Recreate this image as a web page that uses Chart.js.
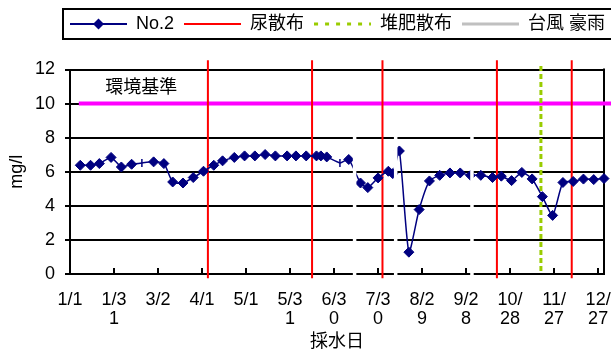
<!DOCTYPE html>
<html lang="ja">
<head>
<meta charset="UTF-8">
<title>No.2 採水日</title>
<script src="https://cdn.jsdelivr.net/npm/chart.js"></script>
<style>
  body { margin: 0; background: #fff; }
  #wrap { width: 611px; height: 351px; }
</style>
</head>
<body>
<div id="wrap"><canvas id="chart"></canvas></div>
<script>
// x axis = days since 1/1
const tickLabels = ['1/1', '1/31', '3/2', '4/1', '5/1', '5/31', '6/30', '7/30', '8/29', '9/28', '10/28', '11/27', '12/27'];
const sampleDays = [7, 14, 20, 28, 35, 42, 49, 57, 64, 70, 77, 84, 91, 98, 104, 112, 119, 126, 133, 140, 148, 154, 161, 168, 171, 175,
  184, 190, 198, 203, 210, 217, 220, 224.5, 231, 238, 245, 252, 259, 266, 273, 280, 288, 294, 301, 308, 315, 322, 329, 336, 343, 350, 357, 364];
const no2Values = [6.38, 6.38, 6.48, 6.84, 6.28, 6.44, 6.52, 6.58, 6.48, 5.40, 5.34, 5.66, 6.03, 6.38, 6.64, 6.84, 6.93, 6.93, 7.01, 6.93, 6.93, 6.93, 6.93, 6.93, 6.93, 6.87,
  6.52, 6.72, 5.34, 5.07, 5.64, 6.03, 5.89, 7.22, 1.28, 3.78, 5.46, 5.79, 5.93, 5.93, 5.79, 5.79, 5.66, 5.74, 5.48, 5.96, 5.58, 4.54, 3.44, 5.37, 5.43, 5.57, 5.54, 5.60];
const dashMarkerDays = [49, 184];
const ureaDays = [94, 165, 213, 291, 342];
const compostDays = [321];
const stormDays = [194, 222, 274];
const standardValue = 10;
const standardLabel = '環境基準';

const FONT = "'Liberation Sans', Arial, 'Noto Sans CJK JP', sans-serif";
Chart.defaults.font.family = FONT;
Chart.defaults.font.size = 18;
Chart.defaults.color = '#000';

function vlines(days, top, bottom) {
  return days.flatMap(d => [{x: d, y: top}, {x: d, y: bottom}, {x: d, y: null}]);
}
const isDash = c => dashMarkerDays.includes(sampleDays[c.dataIndex]);

function swatch(draw) {
  const c = document.createElement('canvas');
  c.width = 57; c.height = 12;
  draw(c.getContext('2d'));
  return c;
}
function hline(g, color, w, dash) {
  g.strokeStyle = color; g.lineWidth = w; g.setLineDash(dash || []);
  g.beginPath(); g.moveTo(0, 6); g.lineTo(57, 6); g.stroke();
}
const legendSwatches = [
  swatch(g => {
    hline(g, '#000080', 2);
    g.fillStyle = '#000080';
    g.beginPath(); g.moveTo(23, 6); g.lineTo(28.5, 0.5); g.lineTo(34, 6); g.lineTo(28.5, 11.5); g.closePath(); g.fill();
  }),
  swatch(g => hline(g, '#ff0000', 2)),
  swatch(g => hline(g, '#99cc00', 3, [4, 7])),
  swatch(g => hline(g, '#c0c0c0', 3))
];

const decor = {
  id: 'decor',
  beforeInit(chart) {
    const lg = chart.legend;
    const fit = lg.fit;
    lg.fit = function () {
      this.maxWidth = 2000;   // keep all items on one row
      fit.call(this);
      this.height = 64.5;
    };
  },
  afterLayout(chart) {
    chart.legend.left = 60;
    chart.legend.right = 2000;
  },
  beforeDatasetsDraw(chart) {
    const {ctx, chartArea: a, scales: {x}} = chart;
    ctx.save();
    ctx.strokeStyle = '#000';
    ctx.lineWidth = 2;
    ctx.beginPath(); ctx.moveTo(a.right, a.top - 1); ctx.lineTo(a.right, a.bottom + 1); ctx.stroke();
    x.ticks.forEach(t => {
      const px = Math.round(x.getPixelForValue(t.value));
      ctx.beginPath(); ctx.moveTo(px, a.bottom); ctx.lineTo(px, a.bottom - 6); ctx.stroke();
    });
    ctx.restore();
  },
  afterDraw(chart) {
    const {ctx, scales: {x, y}} = chart;
    ctx.save();
    ctx.strokeStyle = '#000';
    ctx.lineWidth = 2;
    ctx.strokeRect(63, 9, chart.width, 30);
    ctx.fillStyle = '#000';
    ctx.font = '18px ' + FONT;
    ctx.textBaseline = 'middle';
    ctx.fillText(standardLabel, x.getPixelForValue(24), y.getPixelForValue(10.9));
    ctx.restore();
  }
};

new Chart(document.getElementById('chart'), {
  type: 'line',
  data: {
    datasets: [
      {
        label: 'No.2',
        data: sampleDays.map((d, i) => ({x: d, y: no2Values[i]})),
        borderColor: '#000080',
        backgroundColor: '#000080',
        borderWidth: 1.5,
        tension: 0.2,
        pointStyle: c => isDash(c) ? 'line' : 'rectRot',
        pointRotation: c => isDash(c) ? 90 : 0,
        pointRadius: c => isDash(c) ? 4 : 5,
        pointBorderWidth: c => isDash(c) ? 1.5 : 1,
        order: 1,
        clip: false
      },
      {
        label: '尿散布',
        data: vlines(ureaDays, 12.55, -0.25),
        borderColor: '#ff0000',
        borderWidth: 2,
        pointRadius: 0,
        order: 3,
        clip: false
      },
      {
        label: '堆肥散布',
        data: vlines(compostDays, 12.2, 0),
        borderColor: '#99cc00',
        borderWidth: 3,
        borderDash: [5, 3],
        pointRadius: 0,
        order: 2,
        clip: false
      },
      {
        label: '台風 豪雨',
        data: vlines(stormDays, 9.75, -0.2),
        borderColor: '#ffffff',
        borderWidth: 3.5,
        pointRadius: 0,
        order: 0,
        clip: false
      },
      {
        label: standardLabel,
        data: [{x: 6, y: standardValue}, {x: 372, y: standardValue}],
        borderColor: '#ff00ff',
        borderWidth: 4,
        pointRadius: 0,
        order: 4,
        clip: false
      }
    ]
  },
  options: {
    responsive: true,
    maintainAspectRatio: false,
    animation: false,
    events: [],
    spanGaps: false,
    layout: { padding: { top: 5, right: 7, left: 0, bottom: 0 } },
    plugins: {
      tooltip: { enabled: false },
      legend: {
        position: 'top',
        align: 'start',
        labels: {
          usePointStyle: true,
          pointStyleWidth: 57,
          padding: 10,
          color: '#000',
          font: { size: 18 },
          generateLabels(chart) {
            const items = Chart.defaults.plugins.legend.labels.generateLabels(chart);
            return items
              .filter(i => i.datasetIndex < 4)
              .sort((a, b) => a.datasetIndex - b.datasetIndex)
              .map(i => Object.assign(i, {pointStyle: legendSwatches[i.datasetIndex], rotation: 0}));
          }
        }
      }
    },
    scales: {
      x: {
        type: 'linear',
        min: 0,
        max: 364,
        grid: { display: false, drawTicks: false },
        border: { display: true, color: '#000', width: 2 },
        afterBuildTicks: s => { s.ticks = tickLabels.map((_, i) => ({value: i * 30})); },
        afterFit: s => { s.height = 77; s.paddingLeft = 0; s.paddingRight = 0; },
        ticks: {
          autoSkip: false,
          maxRotation: 0,
          padding: 16.5,
          font: { size: 18, lineHeight: 1.05 },
          callback: v => {
            const s = tickLabels[Math.round(v / 30)];
            return s.length > 3 ? [s.slice(0, 3), s.slice(3)] : s;
          }
        },
        title: { display: true, text: '採水日', padding: { top: 2, bottom: -2 } }
      },
      y: {
        min: 0,
        max: 12,
        afterFit: s => { s.width = 70; },
        grid: { color: '#000', lineWidth: 2, tickLength: 5 },
        border: { display: true, color: '#000', width: 2 },
        ticks: { stepSize: 2, padding: 10 },
        title: { display: true, text: 'mg/l', padding: { top: 6, bottom: 0 } }
      }
    }
  },
  plugins: [decor]
});
</script>
</body>
</html>
